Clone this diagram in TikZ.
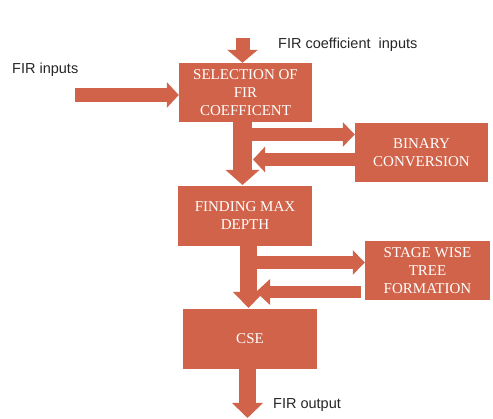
\documentclass[tikz,border=0pt]{standalone}
\usepackage{fontspec}
\setmainfont{Liberation Serif}
\newfontfamily\labelfont{Liberation Sans}
\usetikzlibrary{arrows.meta}
\definecolor{brick}{RGB}{208,99,74}
\tikzset{
  box/.style={fill=brick, draw=none, text=white, align=center, inner sep=0pt,
    font=\fontsize{15}{18}\selectfont},
  lbl/.style={anchor=west, inner sep=0pt, text=black!85, font=\labelfont\fontsize{14.5}{17}\selectfont},
  barrow/.style args={#1/#2/#3}{draw=brick, line width=#1pt,
    -{Triangle[width=#2pt,length=#3pt]}, line cap=butt}
}
\begin{document}
\begin{tikzpicture}[x=1pt,y=-1pt]
\useasboundingbox (0,0) rectangle (493,419);
% boxes
\node[box, minimum width=133pt, minimum height=59pt] (sel) at (245.5,92.5) {SELECTION OF\\FIR\\COEFFICENT};
\node[box, minimum width=133pt, minimum height=59pt] (bin) at (421.5,152.5) {BINARY\\CONVERSION};
\node[box, minimum width=134pt, minimum height=60pt] (find) at (245,216) {FINDING MAX\\DEPTH};
\node[box, minimum width=125pt, minimum height=59pt] (stage) at (427.5,270.5) {STAGE WISE\\TREE\\FORMATION};
\node[box, minimum width=134pt, minimum height=60pt] (cse) at (250,339) {CSE};
% labels
\node[lbl] (lcoef) at (278,45) {FIR coefficient\ \ inputs};
\node[lbl] (lin) at (12,70) {FIR inputs};
\node[lbl] (lout) at (273,405) {FIR output};
% free ends
\coordinate (ctop) at (242.5,38);
\coordinate (cin) at (75,95);
\coordinate (cout) at (247.5,418);
% arrows
\draw[barrow=14/30/13] (ctop) -- (ctop |- sel.north);
\draw[barrow=14/25/12] (cin) -- (cin -| sel.west);
\draw[barrow=19/33/15] (242.5,122) -- (242.5,185);
\draw[barrow=13/24/12] (252,134.5) -- (252,134.5 -| bin.west);
\draw[barrow=13/25/12] (bin.west |- 0,159.5) -- (253,159.5);
\draw[barrow=17/30/16] (248.5,246) -- (248.5,308);
\draw[barrow=13/24/12] (257,262.5) -- (257,262.5 -| stage.west);
\draw[barrow=12/25/14] (361,292) -- (256,292);
\draw[barrow=17/30/15] (cout |- cse.south) -- (cout);
\end{tikzpicture}
\end{document}
